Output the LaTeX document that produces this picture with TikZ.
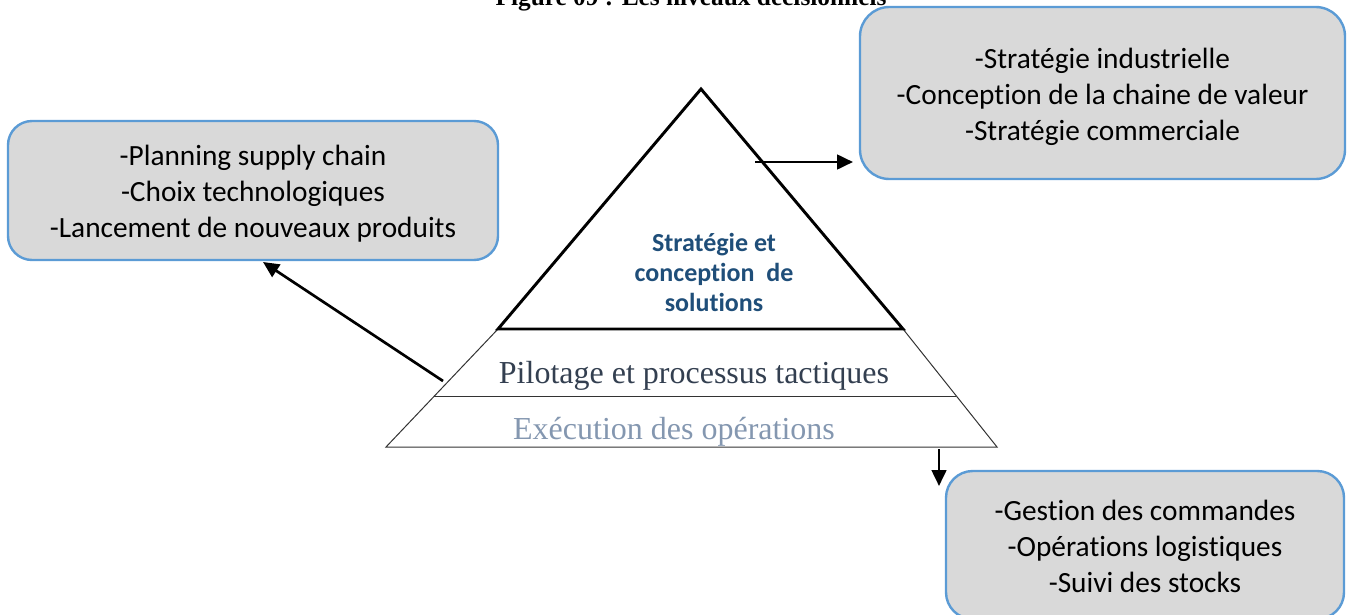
\documentclass[tikz,border=0pt]{standalone}
\usepackage{fontspec}
\setmainfont{Liberation Serif}
\newfontfamily\boxfont[Ligatures=NoCommon]{Carlito}
\usetikzlibrary{arrows.meta,calc}
\definecolor{boxfill}{HTML}{D9D9D9}
\definecolor{boxline}{HTML}{5B9BD5}
\definecolor{topblue}{HTML}{1F4E79}
\definecolor{midtext}{HTML}{333F50}
\definecolor{lowtext}{HTML}{8497B0}
\begin{document}
\begin{tikzpicture}[x=0.75pt,y=-0.75pt,
  infobox/.style={draw=boxline, line width=1.8pt, fill=boxfill, rounded corners=18pt, inner sep=0pt},
  infotext/.style={align=center, inner sep=0pt, font=\boxfont\fontsize{22}{27}\selectfont},
  arr/.style={line width=2pt, -{Triangle[length=12pt,width=11pt]}},
  thickedge/.style={line width=2.2pt, line join=miter},
  thinedge/.style={line width=0.75pt, draw=black!80},
]
\useasboundingbox (0,0) rectangle (1349,614);

% title (partly above the page)
\node[anchor=base, font=\bfseries\fontsize{19}{22}\selectfont] (title) at (691,5)
  {Figure 09 : Les niveaux décisionnels};

% pyramid
\coordinate (apex) at (701,89);
\coordinate (tl) at (498,329);
\coordinate (tr) at (903,329);
\coordinate (bl) at (386,447);
\coordinate (br) at (997,447);
\coordinate (ml) at ($(tl)!0.568!(bl)$);
\coordinate (mr) at ($(tr)!0.568!(br)$);
\draw[thinedge] (tl) -- (bl) -- (br) -- (tr);
\draw[thinedge] (ml) -- (mr);
\draw[thickedge] (tl) -- (apex) -- (tr) -- cycle;

\node[font=\boxfont\bfseries\fontsize{19.5}{22.5}\selectfont, text=topblue, align=center]
  (strat) at (714,272) {Stratégie et\\conception\ \ de\\solutions};
\node[font=\fontsize{24}{28}\selectfont, text=midtext] (pilot) at (694,376)
  {Pilotage et processus tactiques};
\node[font=\fontsize{24}{28}\selectfont, text=lowtext] (exec) at (674,432)
  {Exécution des opérations};

% boxes
\node[infobox, minimum width=367.5pt, minimum height=104.25pt] (lbox) at (253,190.5) {};
\node[infotext] (ltext) at (253,194)
  {-Planning supply chain\\-Choix technologiques\\-Lancement de nouveaux produits};
\node[infobox, minimum width=363.75pt, minimum height=129pt, rounded corners=22pt] (rbox) at (1102.5,93) {};
\node[infotext] (rtext) at (1102.5,97)
  {-Stratégie industrielle\\-Conception de la chaine de valeur\\-Stratégie commerciale};
\node[infobox, minimum width=298.5pt, minimum height=111pt, rounded corners=20pt] (bbox) at (1145,545) {};
\node[infotext] (btext) at (1145,546)
  {-Gestion des commandes\\-Opérations logistiques\\-Suivi des stocks};

% arrows
\coordinate (a1s) at (443,381);
\coordinate (a1e) at (263,262);
\coordinate (a2s) at (755,162);
\coordinate (a2e) at (853,162);
\coordinate (a3s) at (939,449);
\coordinate (a3e) at (939,486);
\draw[arr] (a1s) -- (a1e);
\draw[arr] (a2s) -- (a2e);
\draw[arr] (a3s) -- (a3e);
\end{tikzpicture}
\end{document}
